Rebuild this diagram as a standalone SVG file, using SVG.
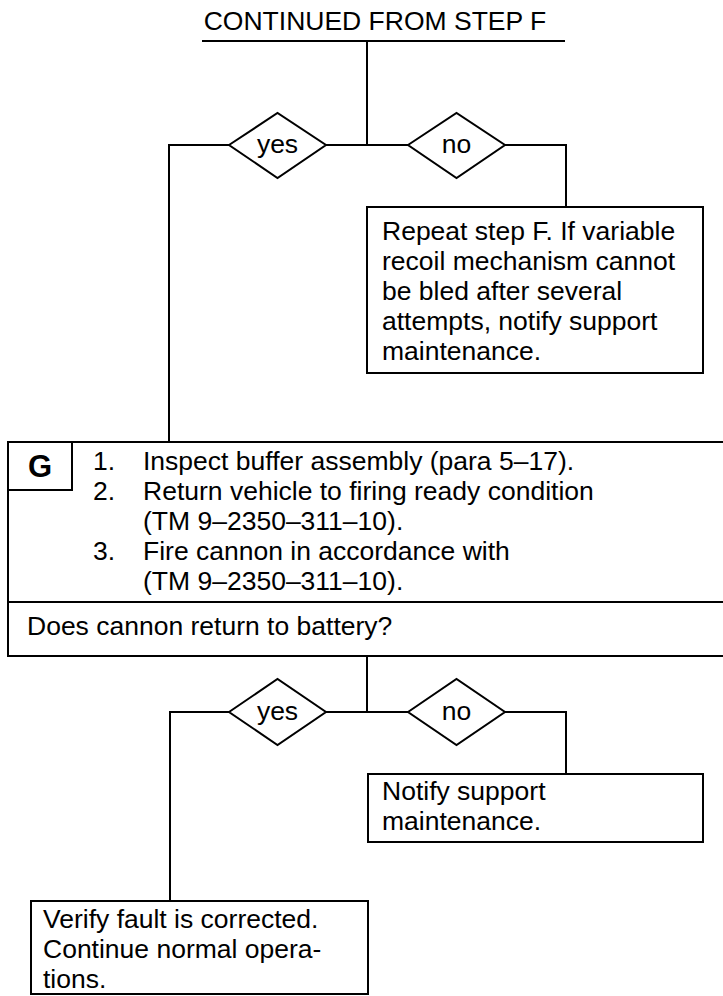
<svg xmlns="http://www.w3.org/2000/svg" width="723" height="996" viewBox="0 0 723 996">
<style>
  text { font-family: "Liberation Sans", Arial, sans-serif; font-size: 26.5px; fill: #000; }
  .c { text-anchor: middle; }
  .g { font-weight: bold; font-size: 31px; }
  .box { fill: #fff; stroke: #000; stroke-width: 2; }
  .ln { fill: none; stroke: #000; stroke-width: 2; }
  .dia { fill: #fff; stroke: #000; stroke-width: 2; }
</style>
<rect width="723" height="996" fill="#fff"/>
<g id="connectors">
  <line class="ln" x1="202" y1="41" x2="565" y2="41"/>
  <polyline class="ln" points="367,41 367,145"/>
  <polyline class="ln" points="229,145 169,145 169,442"/>
  <line class="ln" x1="326" y1="145" x2="408" y2="145"/>
  <polyline class="ln" points="505,145 566,145 566,207"/>
  <polyline class="ln" points="367,656 367,712"/>
  <polyline class="ln" points="229,712 170,712 170,901"/>
  <line class="ln" x1="326" y1="712" x2="408" y2="712"/>
  <polyline class="ln" points="505,712 566,712 566,774"/>
</g>
<g id="title">
  <text x="375" y="30" class="c">CONTINUED FROM STEP F</text>
</g>
<g id="yes1">
  <polygon class="dia" points="229,145 277.5,113 326,145 277.5,178"/>
  <text x="277.5" y="153" class="c">yes</text>
</g>
<g id="no1">
  <polygon class="dia" points="408,145 456.5,113 505,145 456.5,178"/>
  <text x="456.5" y="153" class="c">no</text>
</g>
<g id="repeat">
  <rect class="box" x="367" y="207" width="336" height="166"/>
  <text x="382" y="240">Repeat step F. If variable</text>
  <text x="382" y="270">recoil mechanism cannot</text>
  <text x="382" y="300">be bled after several</text>
  <text x="382" y="330">attempts, notify support</text>
  <text x="382" y="360">maintenance.</text>
</g>
<g id="stepG">
  <rect class="box" x="8" y="442" width="720" height="214"/>
  <line class="ln" x1="8" y1="602" x2="728" y2="602"/>
  <rect class="box" x="8" y="442" width="64" height="48"/>
  <text x="40" y="477" class="c g">G</text>
  <text x="93" y="470">1.</text>
  <text x="143" y="470">Inspect buffer assembly (para 5–17).</text>
  <text x="93" y="500">2.</text>
  <text x="143" y="500">Return vehicle to firing ready condition</text>
  <text x="143" y="530">(TM 9–2350–311–10).</text>
  <text x="93" y="560">3.</text>
  <text x="143" y="560">Fire cannon in accordance with</text>
  <text x="143" y="590">(TM 9–2350–311–10).</text>
  <text x="27" y="635">Does cannon return to battery?</text>
</g>
<g id="yes2">
  <polygon class="dia" points="229,712 277.5,679 326,712 277.5,745"/>
  <text x="277.5" y="720" class="c">yes</text>
</g>
<g id="no2">
  <polygon class="dia" points="408,712 456.5,679 505,712 456.5,745"/>
  <text x="456.5" y="720" class="c">no</text>
</g>
<g id="notify">
  <rect class="box" x="368" y="774" width="335" height="68"/>
  <text x="382" y="800">Notify support</text>
  <text x="382" y="830">maintenance.</text>
</g>
<g id="verify">
  <rect class="box" x="31" y="901" width="337" height="93"/>
  <text x="43" y="928">Verify fault is corrected.</text>
  <text x="43" y="958">Continue normal opera-</text>
  <text x="43" y="988">tions.</text>
</g>
</svg>
